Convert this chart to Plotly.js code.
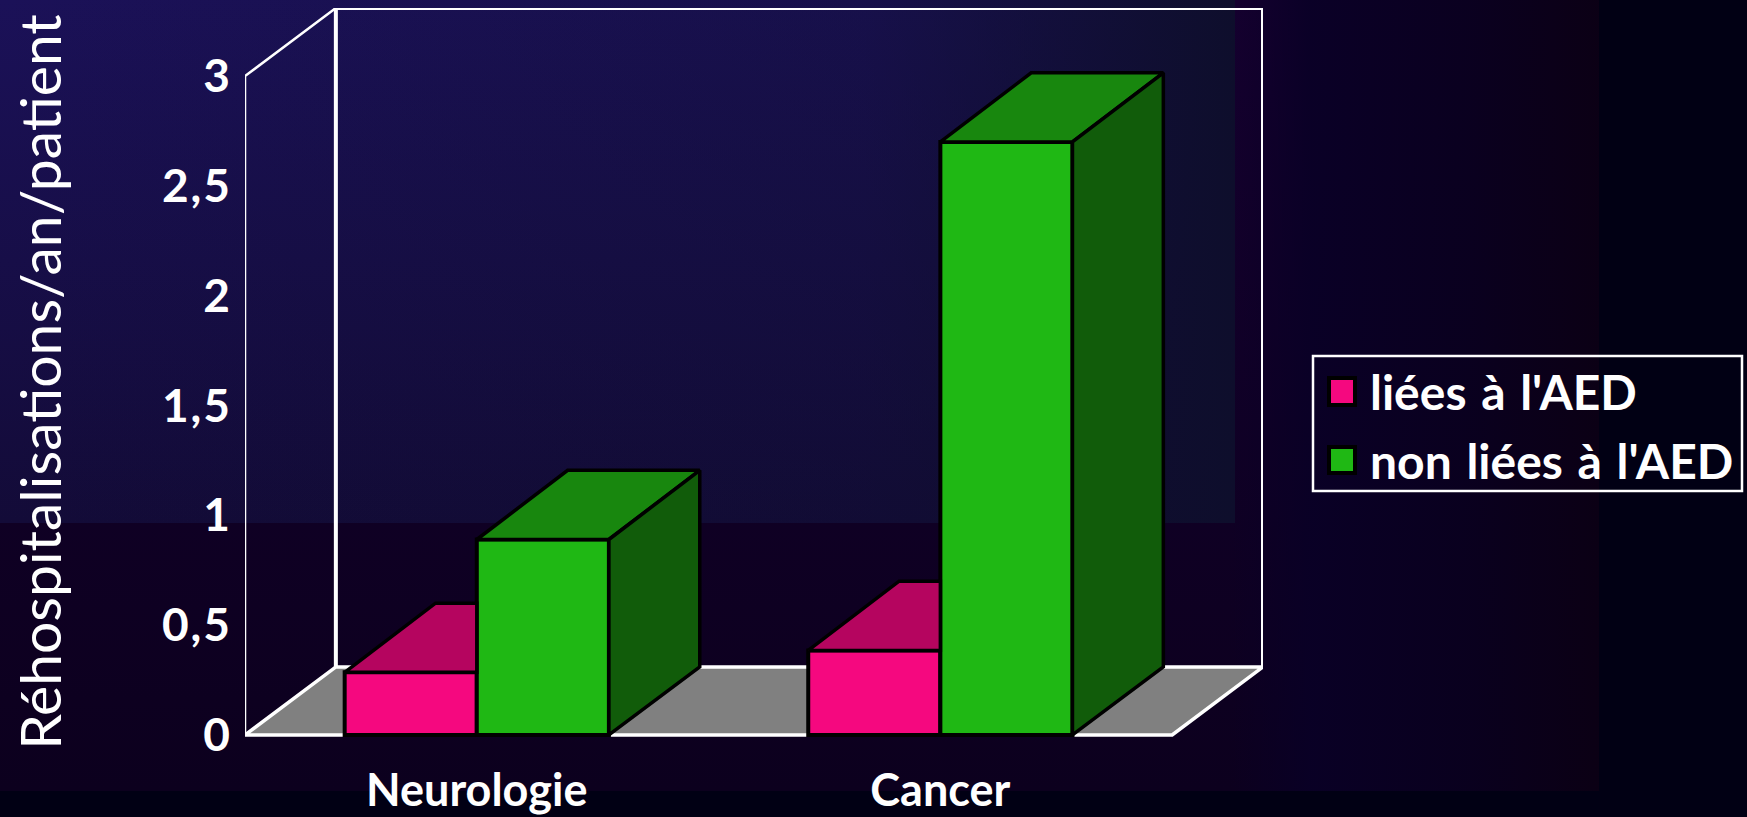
<!DOCTYPE html>
<html lang="fr">
<head>
<meta charset="utf-8">
<title>Réhospitalisations par an et par patient</title>
<script src="https://cdn.plot.ly/plotly-3.0.1.min.js"></script>
<style>
  html, body { margin: 0; padding: 0; width: 1747px; height: 817px; overflow: hidden; }
  body {
    background-color: #010014;
    background-repeat: no-repeat;
    background-image:
      linear-gradient(90deg, rgba(14,14,44,0) 0%, rgba(14,14,44,0.3) 70%, rgba(14,14,44,1) 100%),
      linear-gradient(180deg, #1b1158 0%, #130b38 100%),
      linear-gradient(90deg, rgba(9,0,38,0) 77%, rgba(9,0,38,0.9) 82%, rgba(9,0,30,0.9) 92%, rgba(11,0,20,0.95) 100%),
      linear-gradient(180deg, #15002f 0%, #0c001e 100%);
    background-size: 1235px 523px, 1235px 523px, 1599px 791px, 1599px 791px;
  }
  #chart { width: 1747px; height: 817px; }
  .annotation-text { word-spacing: 3px; }
  .ytick text { letter-spacing: 2px; }
</style>
</head>
<body>
<div id="chart"></div>
<script>
// Hospital readmissions per year per patient, by ward and by link to the adverse drug event.
const categories = ['Neurologie', 'Cancer'];
const linkedValues = [0.285, 0.385];
const unlinkedValues = [0.89, 2.70];
const seriesNames = ["liées à l'AED", "non liées à l'AED"];
const yAxisTitle = 'Réhospitalisations/an/patient';

const PINK = '#f5087f', PINK_TOP = '#b5055f';
const GREEN = '#1fb814', GREEN_TOP = '#18870e', GREEN_SIDE = '#115c0a';
const FONT = 'Lato, sans-serif';

// Fake-perspective extents, in axis units.
const YMAX = 3, DEPTH_X = 0.196, DEPTH_Y = 0.31, TOP_DEPTH_Y = 0.315, BAR_W = 0.285;
const positions = categories.map((_, i) => i);

// Plot rectangle in page pixels; the legend block is placed relative to it.
const M = { l: 245, r: 484, t: 8, b: 61 };
const W = 1747, H = 817;
const px = v => (v - M.l) / (W - M.l - M.r);
const py = v => 1 - (v - M.t) / (H - M.t - M.b);

function face(xs, ys, fill) {
  return {
    type: 'scatter', mode: 'lines', x: xs, y: ys, fill: 'toself', fillcolor: fill,
    line: { color: '#000', width: 3.5 },
    hoverinfo: 'skip', showlegend: false
  };
}

const traces = [
  { type: 'bar', name: seriesNames[0], x: positions, y: linkedValues, width: BAR_W, offset: -BAR_W,
    marker: { color: PINK, line: { color: '#000', width: 4 } } },
  { type: 'bar', name: seriesNames[1], x: positions, y: unlinkedValues, width: BAR_W, offset: 0,
    marker: { color: GREEN, line: { color: '#000', width: 4 } } }
];

// Top of the pink blocks stops at the green block standing in front of it.
positions.forEach((p, i) => {
  const v = linkedValues[i];
  traces.push(face([p - BAR_W, p - BAR_W + DEPTH_X, p, p, p - BAR_W],
                   [v, v + TOP_DEPTH_Y, v + TOP_DEPTH_Y, v, v], PINK_TOP));
});
// Top and side of the green blocks.
positions.forEach((p, i) => {
  const v = unlinkedValues[i];
  traces.push(face([p, p + DEPTH_X, p + BAR_W + DEPTH_X, p + BAR_W, p],
                   [v, v + TOP_DEPTH_Y, v + TOP_DEPTH_Y, v, v], GREEN_TOP));
  traces.push(face([p + BAR_W, p + BAR_W + DEPTH_X, p + BAR_W + DEPTH_X, p + BAR_W, p + BAR_W],
                   [v, v + TOP_DEPTH_Y, DEPTH_Y, 0, v], GREEN_SIDE));
});

const x0 = -0.5, x1 = 1.5;
const floorPath = `M${x0},0 L${x0 + DEPTH_X},${DEPTH_Y} L${x1 + DEPTH_X},${DEPTH_Y} L${x1},0 Z`;
const backPath = `M${x0 + DEPTH_X},${DEPTH_Y} L${x0 + DEPTH_X},${YMAX + DEPTH_Y} L${x1 + DEPTH_X},${YMAX + DEPTH_Y} L${x1 + DEPTH_X},${DEPTH_Y}`;
const sidePath = `M${x0},0 L${x0},${YMAX} L${x0 + DEPTH_X},${YMAX + DEPTH_Y}`;

const shapes = [
  { type: 'path', xref: 'x', yref: 'y', layer: 'below', path: floorPath, fillcolor: '#808080', line: { color: '#fff', width: 3.5 } },
  { type: 'path', xref: 'x', yref: 'y', layer: 'below', path: backPath, line: { color: '#fff', width: 4 } },
  { type: 'path', xref: 'x', yref: 'y', layer: 'below', path: sidePath, line: { color: '#fff', width: 2.5 } },
  // Legend frame and swatches
  { type: 'rect', xref: 'paper', yref: 'paper', x0: px(1313), x1: px(1742), y0: py(356), y1: py(491),
    line: { color: '#fff', width: 2.5 } },
  { type: 'rect', xref: 'paper', yref: 'paper', x0: px(1329), x1: px(1355), y0: py(378), y1: py(405),
    fillcolor: PINK, line: { color: '#000', width: 4 } },
  { type: 'rect', xref: 'paper', yref: 'paper', x0: px(1329), x1: px(1355), y0: py(447), y1: py(473),
    fillcolor: GREEN, line: { color: '#000', width: 4 } }
];

const annotations = seriesNames.map((name, i) => ({
  xref: 'paper', yref: 'paper', x: px(1368), y: py(i === 0 ? 391 : 460),
  xanchor: 'left', yanchor: 'middle', showarrow: false, text: name,
  font: { family: FONT, size: 48, color: '#fff', weight: 700 }
}));

const layout = {
  width: W, height: H, margin: M, showlegend: false,
  paper_bgcolor: 'rgba(0,0,0,0)', plot_bgcolor: 'rgba(0,0,0,0)',
  separators: ', ',
  barmode: 'group', bargap: 0, shapes, annotations,
  font: { family: FONT, color: '#fff' },
  xaxis: {
    range: [x0, x1 + DEPTH_X], tickmode: 'array', tickvals: positions, ticktext: categories,
    showgrid: false, zeroline: false, showline: false, ticks: '',
    ticklabelstandoff: 4, tickfont: { family: FONT, size: 45, color: '#fff', weight: 700 }
  },
  yaxis: {
    range: [-21 / 219.3, YMAX + DEPTH_Y], tick0: 0, dtick: 0.5, tickmode: 'linear',
    showgrid: false, zeroline: false, showline: false, ticks: '',
    ticklabelstandoff: 12, tickfont: { family: FONT, size: 46, color: '#fff', weight: 700 },
    automargin: false,
    title: { text: yAxisTitle, standoff: 81, font: { family: FONT, size: 57, color: '#fff' } }
  }
};

Plotly.newPlot('chart', traces, layout, { displayModeBar: false, staticPlot: true });
</script>
</body>
</html>
